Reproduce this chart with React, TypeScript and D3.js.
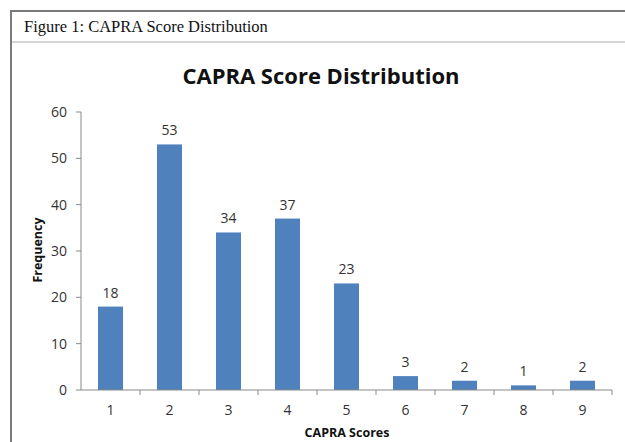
import React from "react";
import { scaleBand, scaleLinear } from "d3";

// CAPRA score categories and how many patients landed in each
const scores = ["1", "2", "3", "4", "5", "6", "7", "8", "9"];
const frequency = [18, 53, 34, 37, 23, 3, 2, 1, 2];
const yTicks = [0, 10, 20, 30, 40, 50, 60];

const W = 625;
const H = 442;
const axisColor = "#898989";
const barColor = "#4F81BD";
const sans = "'Open Sans', sans-serif";

export default function App() {
  const left = 81;
  const right = 612;
  const bottom = 390;
  const top = 112;

  const xScale = scaleBand<string>().domain(scores).range([left, right]);
  const yScale = scaleLinear().domain([0, 60]).range([bottom, top]);
  const barW = 25;

  return (
    <svg
      width={W}
      height={H}
      style={{ position: "absolute", left: 0, top: 0, background: "#fff" }}
    >
      {/* figure frame */}
      <line x1={10} x2={W} y1={11} y2={11} stroke="#7a7a7a" strokeWidth={2} />
      <line x1={11} x2={11} y1={10} y2={H} stroke="#7a7a7a" strokeWidth={2} />
      <line x1={12} x2={W} y1={42} y2={42} stroke="#c8c8c8" strokeWidth={1.5} />
      <text
        x={24}
        y={32}
        fontFamily="'Liberation Serif', serif"
        fontSize={16.5}
        fill="#111"
      >
        Figure 1: CAPRA Score Distribution
      </text>

      <text
        x={321}
        y={84}
        textAnchor="middle"
        fontFamily={sans}
        fontWeight="bold"
        fontSize={22}
        fill="#111"
      >
        CAPRA Score Distribution
      </text>

      {/* y axis */}
      <line x1={left} x2={left} y1={top} y2={bottom} stroke={axisColor} />
      {yTicks.map((t) => (
        <g key={t} transform={`translate(0, ${yScale(t)})`}>
          <line x1={left - 5} x2={left} stroke={axisColor} />
          <text
            x={67}
            dy="0.35em"
            textAnchor="end"
            fontFamily={sans}
            fontSize={14}
            fill="#333"
          >
            {t}
          </text>
        </g>
      ))}
      <text
        transform={`translate(42, 250) rotate(-90)`}
        textAnchor="middle"
        fontFamily={sans}
        fontWeight="bold"
        fontSize={12.5}
        fill="#111"
      >
        Frequency
      </text>

      {/* bars + value labels */}
      {scores.map((s, i) => {
        const cx = (xScale(s) as number) + xScale.bandwidth() / 2;
        const v = frequency[i];
        return (
          <g key={s}>
            <rect
              x={cx - barW / 2}
              y={yScale(v)}
              width={barW}
              height={bottom - yScale(v)}
              fill={barColor}
            />
            <text
              x={cx}
              y={yScale(v) - 9}
              textAnchor="middle"
              fontFamily={sans}
              fontSize={14}
              fill="#333"
            >
              {v}
            </text>
          </g>
        );
      })}

      {/* x axis */}
      <line x1={left} x2={right} y1={bottom} y2={bottom} stroke={axisColor} />
      {scores.map((s) => (
        <line
          key={"t" + s}
          x1={(xScale(s) as number) + xScale.bandwidth()}
          x2={(xScale(s) as number) + xScale.bandwidth()}
          y1={bottom}
          y2={bottom + 5}
          stroke={axisColor}
        />
      ))}
      {scores.map((s) => (
        <text
          key={"l" + s}
          x={(xScale(s) as number) + xScale.bandwidth() / 2}
          y={415}
          textAnchor="middle"
          fontFamily={sans}
          fontSize={14}
          fill="#333"
        >
          {s}
        </text>
      ))}
      <text
        x={347}
        y={437}
        textAnchor="middle"
        fontFamily={sans}
        fontWeight="bold"
        fontSize={12.5}
        fill="#111"
      >
        CAPRA Scores
      </text>
    </svg>
  );
}
